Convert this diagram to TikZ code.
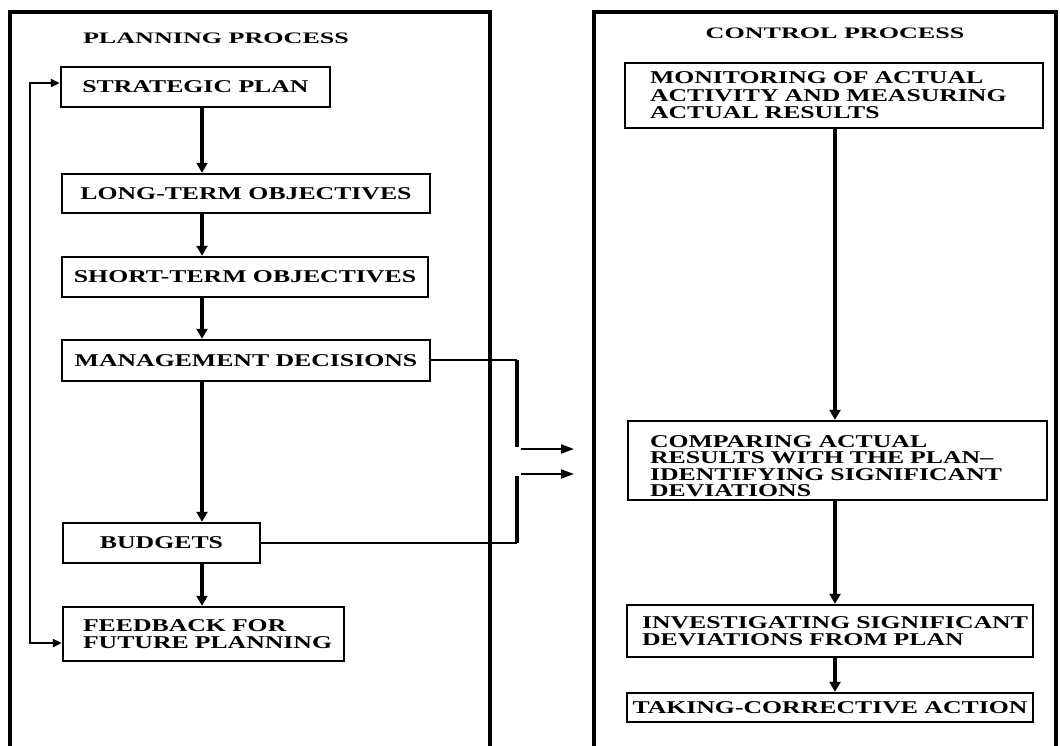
\documentclass[tikz,border=0pt]{standalone}
\usepackage{fontspec}
\setmainfont{Liberation Serif}[FakeStretch=1.43]
\newfontfamily\titlefont{Liberation Serif}[FakeStretch=1.63]
\usetikzlibrary{arrows.meta}
\begin{document}
\begin{tikzpicture}[x=1pt,y=-1pt,
  box/.style={draw, line width=2.5pt, inner sep=0pt, font=\fontsize{18}{17.5}\selectfont\bfseries},
  lbox/.style={box, align=left, text width=#1},
  title/.style={font=\titlefont\fontsize{16}{18}\selectfont\bfseries},
  frame/.style={line width=3.2pt},
  arr/.style={line width=3.4pt, -{Triangle[length=10pt,width=11pt]}},
  thin/.style={line width=1.8pt},
  thick/.style={line width=3.6pt},
  harr/.style={line width=2pt, -{Triangle[length=13pt,width=9pt]}},
  loop/.style={line width=2.4pt, {Triangle[length=9pt,width=8pt]}-{Triangle[length=9pt,width=8pt]}}
]
\useasboundingbox (0,0) rectangle (1060,745);
% frames
\draw[frame] (10,760) -- (10,12) -- (490,12) -- (490,760);
\draw[frame] (594,760) -- (594,12) -- (1056,12) -- (1056,760);
\node[title] (pt) at (216,38) {PLANNING PROCESS};
\node[title] (ct) at (835,33) {CONTROL PROCESS};
% left column
\node[box, minimum width=269pt, minimum height=40pt] (sp) at (195.5,87) {STRATEGIC PLAN};
\node[box, minimum width=368pt, minimum height=39pt] (lt) at (246,193.5) {LONG-TERM OBJECTIVES};
\node[box, minimum width=366pt, minimum height=40pt] (st) at (245,277) {SHORT-TERM OBJECTIVES};
\node[box, minimum width=368pt, minimum height=41pt] (md) at (246,360.5) {MANAGEMENT DECISIONS};
\node[box, minimum width=197pt, minimum height=40pt] (bu) at (161.5,543) {BUDGETS};
\node[lbox=241pt, inner xsep=20pt, minimum height=54pt] (fb) at (203.5,634) {\mbox{FEEDBACK FOR}\\\mbox{FUTURE PLANNING}};
% right column
\node[lbox=368pt, inner xsep=25pt, minimum height=65pt] (mo) at (834,95.5) {\mbox{MONITORING OF ACTUAL}\\\mbox{ACTIVITY AND MEASURING}\\\mbox{ACTUAL RESULTS}};
\node[lbox=375pt, inner xsep=22pt, minimum height=79pt, font=\fontsize{18}{16.5}\selectfont\bfseries] (cp) at (837.5,460.5) {\mbox{\rule{0pt}{23pt}COMPARING ACTUAL}\\\mbox{RESULTS WITH THE PLAN--}\\\mbox{IDENTIFYING SIGNIFICANT}\\\mbox{DEVIATIONS}};
\node[lbox=376pt, inner xsep=15pt, minimum height=52pt] (iv) at (830,631) {\mbox{INVESTIGATING SIGNIFICANT}\\\mbox{DEVIATIONS FROM PLAN}};
\node[box, minimum width=406pt, minimum height=29pt] (tc) at (830,707.5) {TAKING-CORRECTIVE ACTION};
% left arrows
\coordinate (ax) at (202,0);
\draw[arr] (sp.south -| ax) -- (lt.north -| ax);
\draw[arr] (lt.south -| ax) -- (st.north -| ax);
\draw[arr] (st.south -| ax) -- (md.north -| ax);
\draw[arr] (md.south -| ax) -- (bu.north -| ax);
\draw[arr] (bu.south -| ax) -- (fb.north -| ax);
% feedback loop
\coordinate (lb) at (30,643);
\coordinate (lt2) at (30,83);
\draw[loop] (fb.west |- lb) -- (lb) -- (lt2) -- (sp.west |- lt2);
% connectors to control process
\coordinate (m1) at (517,360);
\coordinate (m2) at (517,447);
\coordinate (b1) at (517,543);
\coordinate (b2) at (517,476);
\coordinate (a1s) at (521,449);
\coordinate (a1e) at (574,449);
\coordinate (a2s) at (521,474);
\coordinate (a2e) at (574,474);
\draw[thin] (md.east |- m1) -- (m1);
\draw[thick] (m1) -- (m2);
\draw[thin] (bu.east |- b1) -- (b1);
\draw[thick] (b1) -- (b2);
\draw[harr] (a1s) -- (a1e);
\draw[harr] (a2s) -- (a2e);
% right arrows
\coordinate (rx) at (835,0);
\draw[arr] (mo.south -| rx) -- (cp.north -| rx);
\draw[arr] (cp.south -| rx) -- (iv.north -| rx);
\draw[arr] (iv.south -| rx) -- (tc.north -| rx);
\end{tikzpicture}
\end{document}
